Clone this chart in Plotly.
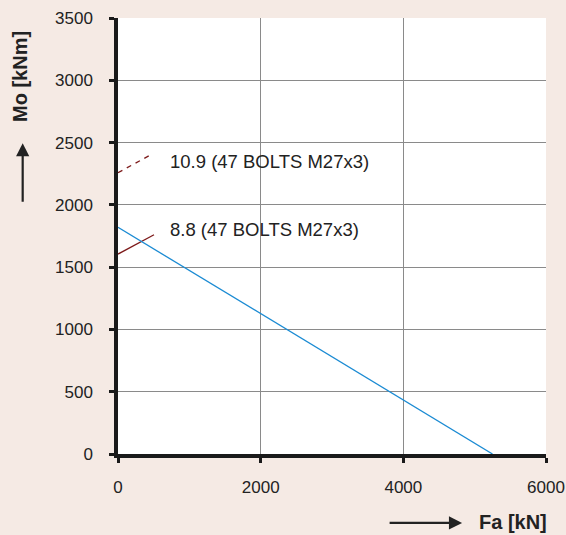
import plotly.graph_objects as go

# Data
fa_line = [0, 5250]          # Fa [kN]
mo_line = [1820, 0]          # Mo [kNm]
lead_109_x = [0, 472]
lead_109_y = [2258, 2406]
lead_88_x = [0, 505]
lead_88_y = [1605, 1760]
labels = ["10.9 (47 BOLTS M27x3)", "8.8 (47 BOLTS M27x3)"]
label_x = [700, 700]
label_y = [2345, 1800]
x_ticks = [0, 2000, 4000, 6000]
y_ticks = [0, 500, 1000, 1500, 2000, 2500, 3000, 3500]

BG = "#f5eae4"
DARKRED = "#7d1a1a"
BLUE = "#1b8bd3"
TXT = "#222222"

fig = go.Figure()
fig.add_trace(go.Scatter(x=lead_109_x, y=lead_109_y, mode="lines",
                         line=dict(color=DARKRED, width=1.3, dash="5px,5px"), showlegend=False))
fig.add_trace(go.Scatter(x=lead_88_x, y=lead_88_y, mode="lines",
                         line=dict(color=DARKRED, width=1.3), showlegend=False))
fig.add_trace(go.Scatter(x=fa_line, y=mo_line, mode="lines",
                         line=dict(color=BLUE, width=1.3), showlegend=False))

for t, x, y in zip(labels, label_x, label_y):
    fig.add_annotation(x=x, y=y, text=t, showarrow=False, xanchor="left", yanchor="middle",
                       font=dict(family="Liberation Sans, Arial", size=18.5, color=TXT))

# Axis titles with arrows
fig.add_annotation(xref="paper", yref="paper", x=0.838, y=-0.157, text="<b>Fa [kN]</b>",
                   showarrow=False, xanchor="left", yanchor="middle",
                   font=dict(family="Liberation Sans, Arial", size=20, color=TXT))
fig.add_annotation(xref="paper", yref="paper", x=0.804, y=-0.158, ax=-74, ay=0,
                   axref="pixel", ayref="pixel", text="", showarrow=True,
                   arrowhead=2, arrowsize=1.2, arrowwidth=2.2, arrowcolor=TXT)
fig.add_annotation(xref="paper", yref="paper", x=-0.229, y=0.867, text="<b>Mo [kNm]</b>",
                   showarrow=False, textangle=-90, xanchor="center", yanchor="middle",
                   font=dict(family="Liberation Sans, Arial", size=20, color=TXT))
fig.add_annotation(xref="paper", yref="paper", x=-0.2227, y=0.713, ax=0, ay=60,
                   axref="pixel", ayref="pixel", text="", showarrow=True,
                   arrowhead=2, arrowsize=1.2, arrowwidth=2.2, arrowcolor=TXT)

axis_common = dict(showgrid=True, gridcolor="#8a8a8a", gridwidth=1, zeroline=False,
                   showline=True, linecolor="#1a1a1a", linewidth=3.5, automargin=False,
                   ticks="outside", ticklen=5, tickwidth=3, tickcolor="#1a1a1a",
                   tickfont=dict(family="Liberation Sans, Arial", size=17, color=TXT))

fig.update_xaxes(range=[0, 6000], tickvals=x_ticks, ticklabelstandoff=10, **axis_common)
fig.update_yaxes(range=[0, 3500], tickvals=y_ticks, ticklabelstandoff=13, **axis_common)

fig.update_layout(width=566, height=535, paper_bgcolor=BG, plot_bgcolor="white",
                  margin=dict(l=118, r=20, t=18, b=81))

fig.write_html("out.html", config={"displayModeBar": False},
               post_script="document.body.style.margin='0';document.body.style.overflow='hidden';")
